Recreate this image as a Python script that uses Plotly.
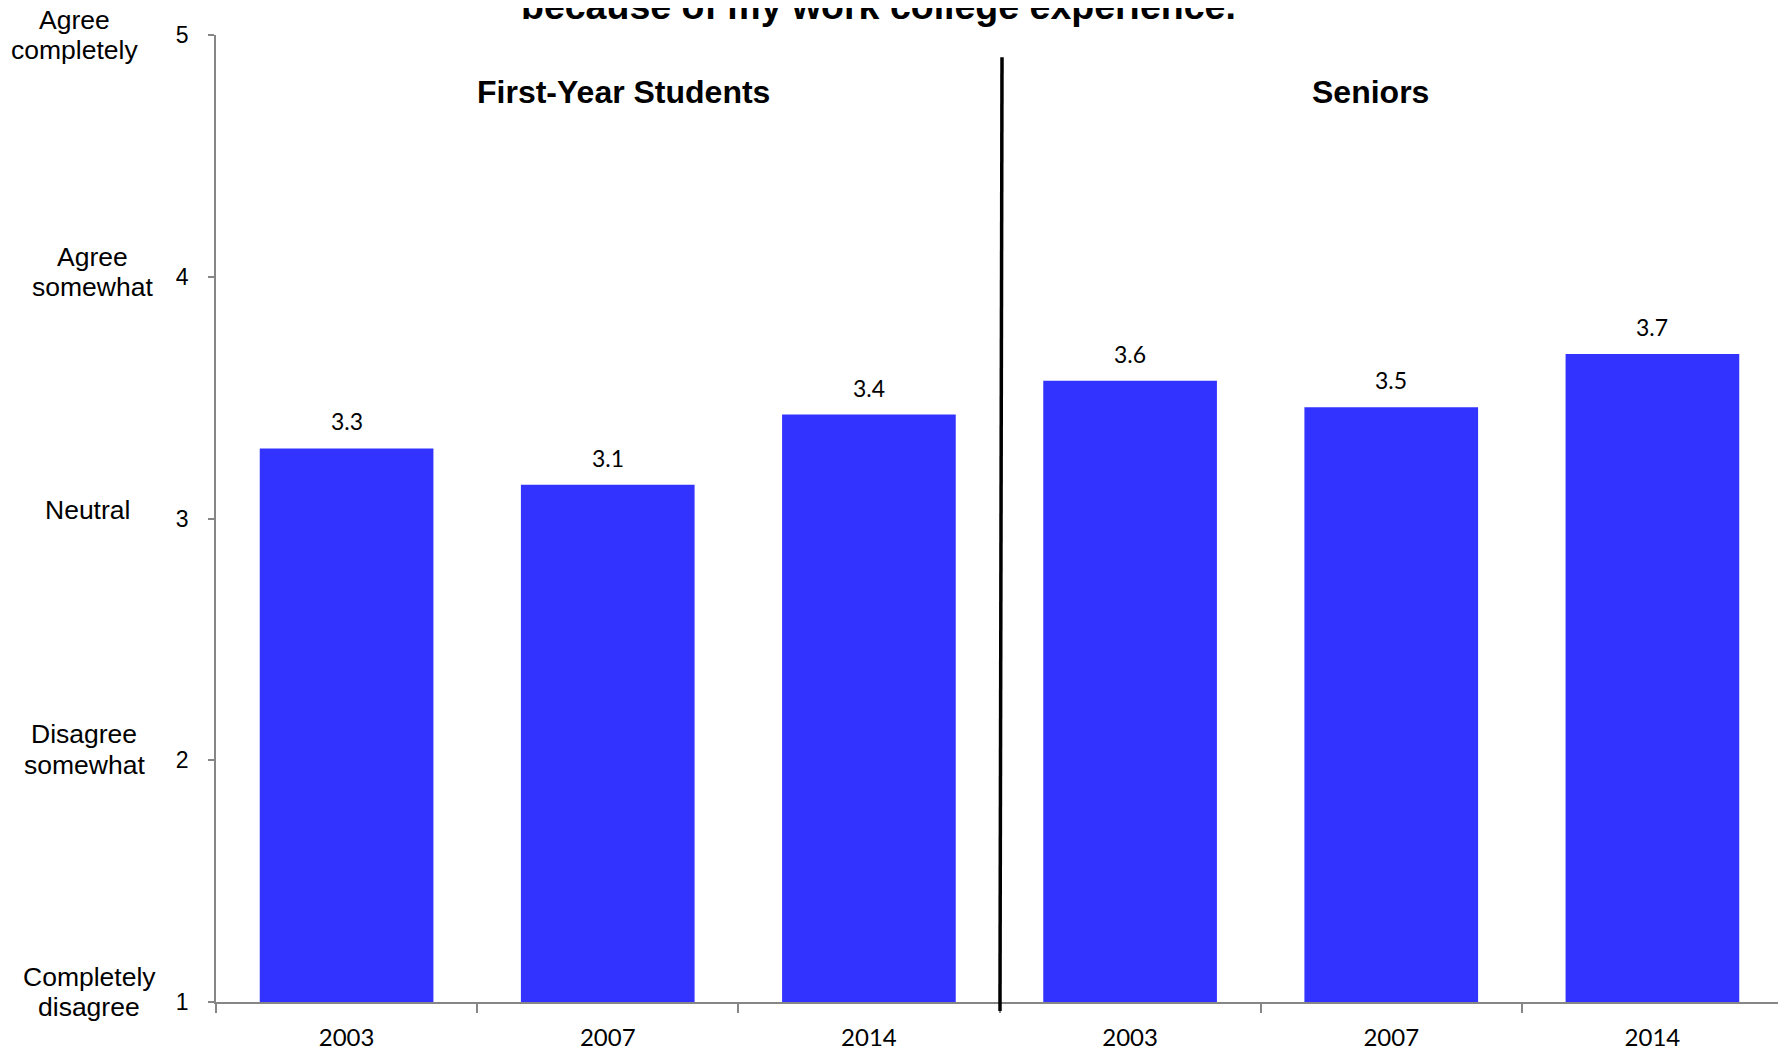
import plotly.graph_objects as go

# ---- data ----
groups = ["First-Year Students", "First-Year Students", "First-Year Students",
          "Seniors", "Seniors", "Seniors"]
years = ["2003", "2007", "2014", "2003", "2007", "2014"]
values = [3.29, 3.14, 3.43, 3.57, 3.46, 3.68]
value_labels = ["3.3", "3.1", "3.4", "3.6", "3.5", "3.7"]
scale_values = [5, 4, 3, 2, 1]
scale_labels = ["Agree<br>completely", "Agree<br>somewhat", "Neutral",
                "Disagree<br>somewhat", "Completely<br>disagree"]
title_line = "because of my work college experience."

# ---- styling ----
BAR = "#3333FF"
AXIS = "#868686"
ARIAL = "Liberation Sans, Arial, sans-serif"
CAL = "Lato, Open Sans, sans-serif"
LINE_GAP = 30.5

cats = [f"{g} {y}" for g, y in zip(groups, years)]

fig = go.Figure()
fig.add_trace(go.Bar(
    x=cats, y=values, base=0,
    marker=dict(color=BAR, line=dict(width=0)),
    width=0.665, hoverinfo="skip", showlegend=False,
))

# value labels above bars
for c, v, t in zip(cats, values, value_labels):
    fig.add_annotation(x=c, y=v, xref="x", yref="y", text=t, showarrow=False,
                       yanchor="bottom", yshift=11,
                       font=dict(family=CAL, size=23, color="#000000"))

# scale labels at left (each line placed separately for tighter line spacing)
label_x = [-0.090, -0.079, -0.082, -0.084, -0.081]
label_shift = [0, 5, 9, 11, 10]
for v, t, lx, s in zip(scale_values, scale_labels, label_x, label_shift):
    lines = t.split("<br>")
    n = len(lines)
    for k, ln in enumerate(lines):
        off = ((n - 1) / 2 - k) * LINE_GAP
        fig.add_annotation(x=lx, y=v, xref="paper", yref="y", text=ln, showarrow=False,
                           xanchor="center", yanchor="middle", yshift=s + off,
                           font=dict(family=ARIAL, size=26.5, color="#000000"))

# group headers
group_names = list(dict.fromkeys(groups))
group_x = [0.260, 0.737]
for g, gx in zip(group_names, group_x):
    fig.add_annotation(x=gx, y=0.941, xref="paper", yref="paper",
                       text=f"<b>{g}</b>", showarrow=False,
                       xanchor="center", yanchor="middle",
                       font=dict(family=ARIAL, size=32, color="#000000"))

# cut-off title line
fig.add_annotation(x=0.423, y=1.030, xref="paper", yref="paper",
                   text=f"<b>{title_line}</b>", showarrow=False,
                   xanchor="center", yanchor="middle",
                   font=dict(family=ARIAL, size=37.5, color="#000000"))

# divider line between groups
fig.add_shape(type="line", xref="paper", yref="paper",
              x0=0.5016, y0=0.977, x1=0.5003, y1=-0.0093,
              line=dict(color="#000000", width=3.5))

fig.update_layout(
    width=1786, height=1053,
    margin=dict(l=208, r=11, t=27, b=59),
    paper_bgcolor="white", plot_bgcolor="white",
    bargap=0.335,
    xaxis=dict(type="category", tickmode="array", tickvals=cats, ticktext=years,
               tickson="boundaries", ticks="outside", ticklen=9, tickcolor=AXIS,
               tickwidth=1.5, showline=True, linecolor=AXIS, linewidth=1.5,
               showgrid=False, zeroline=False, ticklabelstandoff=13,
               tickfont=dict(family=CAL, size=24, color="#000000"),
               range=[-0.5, 5.5]),
    yaxis=dict(range=[1, 5], tickvals=scale_values, ticks="outside", ticklen=6,
               tickcolor=AXIS, tickwidth=1.5, showline=True, linecolor=AXIS,
               linewidth=1.5, showgrid=False, zeroline=False, ticklabelstandoff=15,
               tickfont=dict(family=ARIAL, size=23, color="#000000")),
)

fig.write_html("out.html")
